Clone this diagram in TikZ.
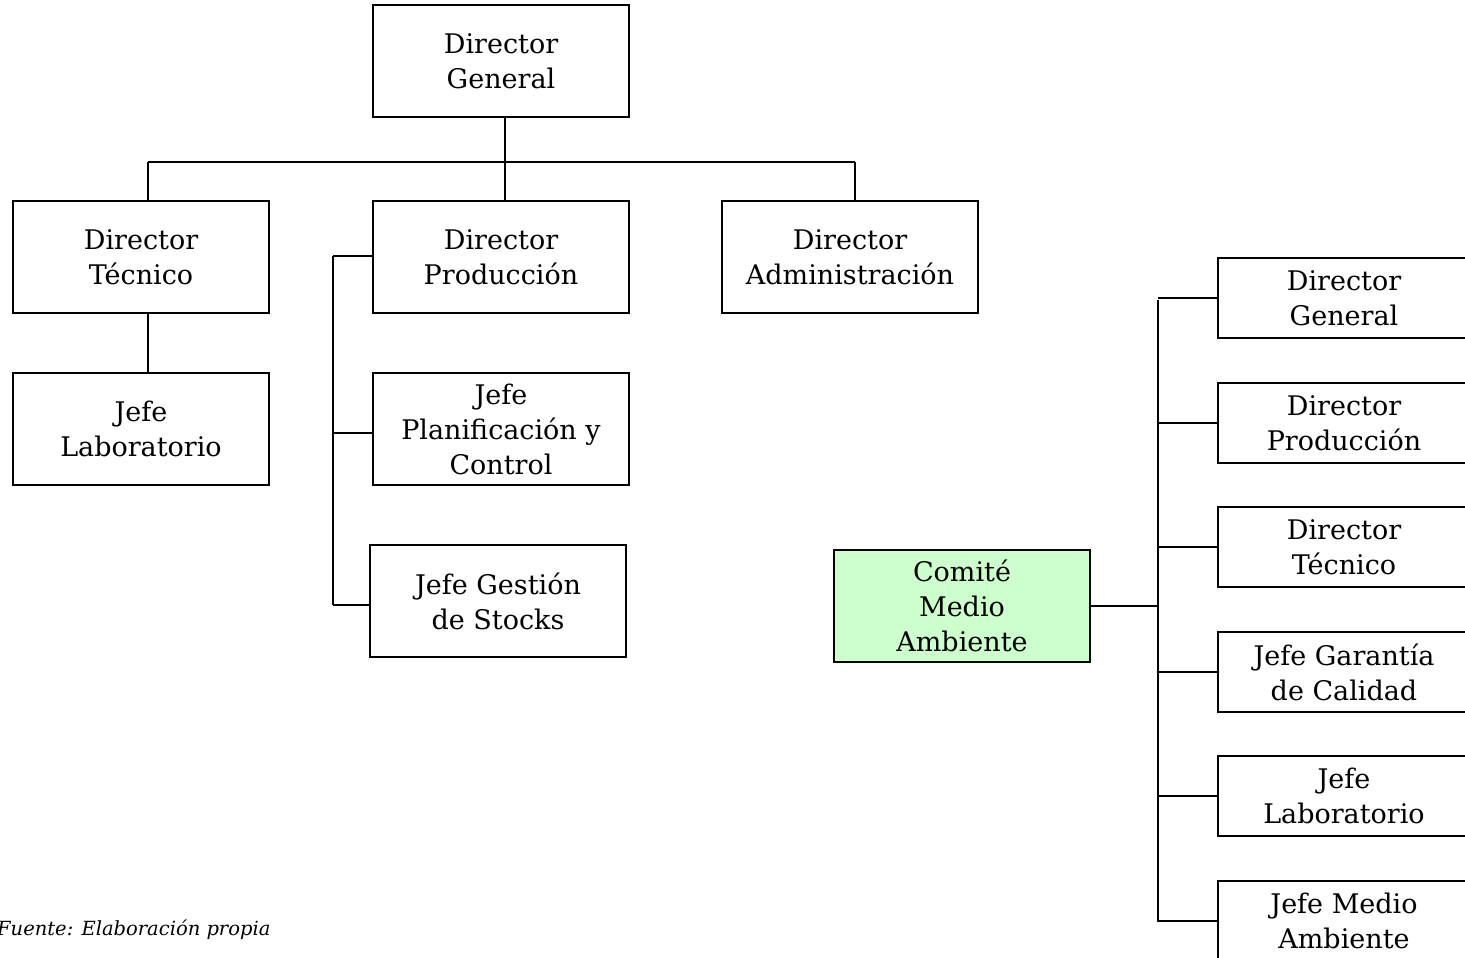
\documentclass[tikz,border=0pt]{standalone}
\usepackage{fontspec}
\setmainfont{DejaVu Serif}
\newcommand{\boxfont}{\fontsize{27}{35}\selectfont}
\newcommand{\notefont}{\fontsize{19.5}{23}\selectfont\itshape}
\definecolor{comitegreen}{HTML}{CCFFCC}
\begin{document}
\begin{tikzpicture}[x=1pt,y=-1pt,
  orgbox/.style={draw, line width=1.8pt, minimum width=256pt, minimum height=112pt,
    align=center, inner sep=0pt, font=\boxfont},
  sidebox/.style={orgbox, minimum width=252pt, minimum height=80pt},
  link/.style={line width=1.8pt}]
\useasboundingbox (0,0) rectangle (1465,958);
\clip (0,0) rectangle (1465,958);

% main hierarchy
\node[orgbox] (dg) at (501,61)  {Director\\General};
\node[orgbox] (dt) at (141,257) {Director\\Técnico};
\node[orgbox] (dp) at (501,257) {Director\\Producción};
\node[orgbox] (da) at (850,257) {Director\\Administración};
\node[orgbox] (jl) at (141,429) {Jefe\\Laboratorio};
\node[orgbox] (jp) at (501,429) {Jefe\\Planificación y\\Control};
\node[orgbox] (jg) at (498,601) {Jefe Gestión\\de Stocks};

\coordinate (barL) at (148,162);
\coordinate (barR) at (855,162);
\draw[link] (barL) -- (barR);
\draw[link] (dg.south -| 505,0) -- (505,0 |- dp.north);
\draw[link] (barL) -- (barL |- dt.north);
\draw[link] (barR) -- (barR |- da.north);
\draw[link] (dt.south -| barL) -- (jl.north -| barL);

% production bracket
\coordinate (pT) at (333,256);
\coordinate (pB) at (333,605);
\draw[link] (pT) -- (pB);
\draw[link] (pT) -- (pT -| dp.west);
\draw[link] (333,433) -- (jp.west |- 0,433);
\draw[link] (pB) -- (pB -| jg.west);

% environment committee
\node[orgbox, fill=comitegreen] (cm) at (962,606) {Comité\\Medio\\Ambiente};
\node[sidebox] (r1) at (1344,298) {Director\\General};
\node[sidebox] (r2) at (1344,423) {Director\\Producción};
\node[sidebox] (r3) at (1344,547) {Director\\Técnico};
\node[sidebox] (r4) at (1344,672) {Jefe Garantía\\de Calidad};
\node[sidebox] (r5) at (1344,796) {Jefe\\Laboratorio};
\node[sidebox] (r6) at (1344,921) {Jefe Medio\\Ambiente};

\coordinate (sT) at (1158,300);
\coordinate (sB) at (1158,922);
\draw[link] (sT) -- (sB);
\draw[link] (cm.east) -- (cm.east -| sT);
\foreach \r in {r1,r2,r3,r4,r5,r6}
  \draw[link] (\r.west -| sT) -- (\r.west);

% source note
\node[anchor=base west, inner sep=0pt, font=\notefont] (src) at (-3,935) {Fuente: Elaboración propia};
\end{tikzpicture}
\end{document}
